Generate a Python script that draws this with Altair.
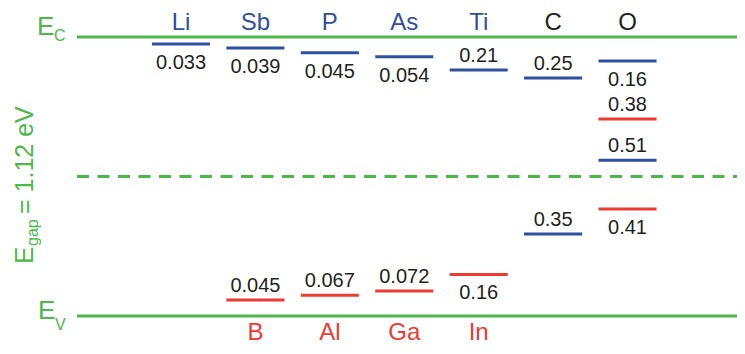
import altair as alt
import pandas as pd

# ---------------- data ----------------
E_GAP = 1.12          # eV, E_V = 0, E_C = 1.12
MIDGAP = 0.56

top_elements = ["Li", "Sb", "P", "As", "Ti", "C", "O"]
top_columns = [0, 1, 2, 3, 4, 5, 6]
top_kinds = ["donor", "donor", "donor", "donor", "donor", "other", "other"]

bottom_elements = ["B", "Al", "Ga", "In"]
bottom_columns = [1, 2, 3, 4]

level_elements = ["Li", "Sb", "P", "As", "Ti", "C", "O", "O", "O", "C", "O", "B", "Al", "Ga", "In"]
level_columns = [0, 1, 2, 3, 4, 5, 6, 6, 6, 5, 6, 1, 2, 3, 4]
level_energies = [1.092, 1.076, 1.057, 1.041, 0.988, 0.955, 1.024, 0.791, 0.625,
                  0.329, 0.430, 0.064, 0.083, 0.100, 0.167]
level_labels = ["0.033", "0.039", "0.045", "0.054", "0.21", "0.25", "0.16", "0.38", "0.51",
                "0.35", "0.41", "0.045", "0.067", "0.072", "0.16"]
level_kinds = ["donor", "donor", "donor", "donor", "donor", "donor", "donor", "acceptor", "donor",
               "donor", "acceptor", "acceptor", "acceptor", "acceptor", "acceptor"]
level_sides = ["below", "below", "below", "below", "above", "above", "below", "above", "above",
               "above", "below", "above", "above", "above", "below"]

band_names = ["E_C", "E_V"]
band_energies = [E_GAP, 0.0]

# ---------------- styling ----------------
GREEN = "#4cb84a"
BLUE = "#2f4f9f"
RED = "#ee3a33"
DARK = "#231f20"
FONT = "Liberation Sans"

W, H = 729, 338
xscale = alt.Scale(domain=[-2.3247, 7.4711])
yscale = alt.Scale(domain=[-0.12043, 1.23642])
kind_color = alt.Color("kind:N", legend=None,
                       scale=alt.Scale(domain=["donor", "acceptor", "other"],
                                       range=[BLUE, RED, DARK]))

levels = pd.DataFrame({"element": level_elements, "col": level_columns,
                       "energy": level_energies, "label": level_labels,
                       "kind": level_kinds, "side": level_sides})
tops = pd.DataFrame({"element": top_elements, "col": top_columns, "kind": top_kinds,
                     "energy": [E_GAP] * len(top_elements)})
bottoms = pd.DataFrame({"element": bottom_elements, "col": bottom_columns,
                        "energy": [0.0] * len(bottom_elements)})
bands = pd.DataFrame({"band": band_names, "energy": band_energies})
mid = pd.DataFrame({"energy": [MIDGAP]})
one = pd.DataFrame({"k": [0]})

Y = alt.Y("energy:Q", scale=yscale, axis=None)

band_lines = alt.Chart(bands).mark_rule(color=GREEN, strokeWidth=3).encode(
    x=alt.value(69), x2=alt.value(W), y=Y)
mid_line = alt.Chart(mid).mark_rule(color=GREEN, strokeWidth=3, strokeDash=[12, 8.5]).encode(
    x=alt.value(69), x2=alt.value(W), y=Y)

bars = alt.Chart(levels).transform_calculate(
    x1="datum.col - 0.39", x2="datum.col + 0.39"
).mark_rule(strokeWidth=3).encode(
    x=alt.X("x1:Q", scale=xscale, axis=None), x2="x2:Q", y=Y, color=kind_color)

val_below = alt.Chart(levels).transform_filter("datum.side == 'below'").mark_text(
    font=FONT, fontSize=20, color=DARK, baseline="middle", dy=19).encode(
    x=alt.X("col:Q", scale=xscale, axis=None), y=Y, text="label:N")
val_above = alt.Chart(levels).transform_filter("datum.side == 'above'").mark_text(
    font=FONT, fontSize=20, color=DARK, baseline="middle", dy=-14).encode(
    x=alt.X("col:Q", scale=xscale, axis=None), y=Y, text="label:N")

top_labels = alt.Chart(tops).mark_text(
    font=FONT, fontSize=24, baseline="alphabetic", dy=-7).encode(
    x=alt.X("col:Q", scale=xscale, axis=None), y=Y, text="element:N", color=kind_color)
bottom_labels = alt.Chart(bottoms).mark_text(
    font=FONT, fontSize=24, baseline="alphabetic", dy=24, color=RED).encode(
    x=alt.X("col:Q", scale=xscale, axis=None), y=Y, text="element:N")

# band edge labels
ec_E = alt.Chart(bands).transform_filter("datum.band == 'E_C'").mark_text(
    text="E", font=FONT, fontSize=26, color=GREEN, align="left", baseline="alphabetic", dy=-2
).encode(x=alt.value(29), y=Y)
ec_sub = alt.Chart(bands).transform_filter("datum.band == 'E_C'").mark_text(
    text="C", font=FONT, fontSize=16, color=GREEN, align="left", baseline="alphabetic", dy=4
).encode(x=alt.value(46), y=Y)
ev_E = alt.Chart(bands).transform_filter("datum.band == 'E_V'").mark_text(
    text="E", font=FONT, fontSize=26, color=GREEN, align="left", baseline="alphabetic", dy=3
).encode(x=alt.value(30), y=Y)
ev_sub = alt.Chart(bands).transform_filter("datum.band == 'E_V'").mark_text(
    text="V", font=FONT, fontSize=16, color=GREEN, align="left", baseline="alphabetic", dy=14
).encode(x=alt.value(47), y=Y)

# rotated gap label
gap_E = alt.Chart(one).mark_text(
    text="E", font=FONT, fontSize=26, color=GREEN, align="left", baseline="alphabetic", angle=270
).encode(x=alt.value(25), y=alt.value(256))
gap_sub = alt.Chart(one).mark_text(
    text="gap", font=FONT, fontSize=16, color=GREEN, align="left", baseline="alphabetic", angle=270
).encode(x=alt.value(30), y=alt.value(238))
gap_rest = alt.Chart(one).mark_text(
    text="= 1.12 eV", font=FONT, fontSize=25, color=GREEN, align="left", baseline="alphabetic", angle=270
).encode(x=alt.value(25), y=alt.value(206))

chart = alt.layer(
    band_lines, mid_line, bars, val_below, val_above, top_labels, bottom_labels,
    ec_E, ec_sub, ev_E, ev_sub, gap_E, gap_sub, gap_rest
).properties(
    width=W, height=H, padding=0, autosize=alt.AutoSizeParams(type="none"),
    background="white"
).configure_view(stroke=None)

chart.save("out.html", embed_options={"renderer": "svg", "actions": False})
